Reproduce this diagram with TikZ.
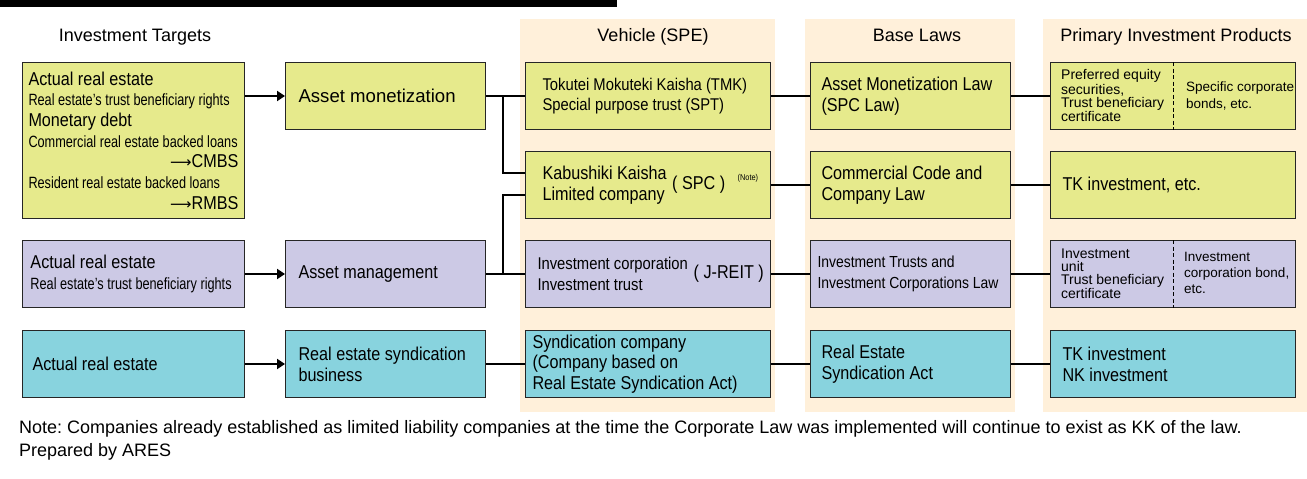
\documentclass[tikz,border=0pt]{standalone}
\usepackage{fontspec}
\setmainfont{Liberation Sans}
\newfontfamily\condfont[FakeStretch=0.87]{Liberation Sans}
\newfontfamily\narrowfont[FakeStretch=0.78]{Liberation Sans}
\newfontfamily\symfont{DejaVu Sans}
\usepackage{xcolor}
\usetikzlibrary{arrows.meta,positioning}
\definecolor{yelfill}{HTML}{E6EA8C}
\definecolor{purfill}{HTML}{CCC9E5}
\definecolor{cyanfill}{HTML}{88D3DE}
\definecolor{beige}{HTML}{FFF0DA}
\newcommand{\bigtx}{\fontsize{18.6}{20.7}\selectfont}
\newcommand{\midtx}{\fontsize{17}{20.3}\selectfont}
\newcommand{\smtx}{\narrowfont\fontsize{16.3}{20.7}\selectfont}
\newcommand{\prodtx}{\fontsize{14}{13}\selectfont}
\newcommand{\toarrow}{{\symfont\fontsize{15}{20}\selectfont ⟶}}
\frenchspacing

\begin{document}
\begin{tikzpicture}[x=1pt, y=-1pt,
    box/.style={draw=black!85, line width=1pt, anchor=north west, minimum height=67pt,
                inner ysep=0pt, align=flush left, font=\condfont\bigtx},
    tgtbox/.style={box, text width=210pt, inner xsep=6pt},
    actbox/.style={box, text width=174pt, inner xsep=13pt},
    spebox/.style={box, text width=221pt, inner xsep=12pt},
    lawbox/.style={box, text width=178pt, inner xsep=11pt},
    prodbox/.style={box, text width=221pt, inner xsep=12pt},
    prodtext/.style={anchor=west, inner sep=0pt, align=flush left, font=\prodtx},
    header/.style={anchor=base, font=\fontsize{18}{20}\selectfont},
    link/.style={line width=2.4pt, black},
    feed/.style={link, -{Triangle[length=8pt, width=10pt]}},
    divider/.style={line width=0.9pt, dash pattern=on 4pt off 2.5pt},
  ]

\useasboundingbox (0,0) rectangle (1307,479);

% top rule and column panels
\fill[black] (0,0) rectangle (617,7);
\fill[beige] (520,19) rectangle (775,412);
\fill[beige] (805,19) rectangle (1015,412);
\fill[beige] (1043,19) rectangle (1307,412);

\node[header] (htgt) at (135,41) {Investment Targets};
\node[header] (hspe) at (653,41) {Vehicle (SPE)};
\node[header] (hlaw) at (917,41) {Base Laws};
\node[header] (hprod) at (1176,41) {Primary Investment Products};

% investment targets
\node[tgtbox, fill=yelfill, minimum height=156pt] (t1) at (22,62)
  {Actual real estate\\
   {\smtx\mbox{Real estate’s trust beneficiary rights}}\\
   Monetary debt\\
   {\smtx\mbox{Commercial real estate backed loans}}\\
   \hspace*{\fill}\toarrow CMBS\\
   {\smtx\mbox{Resident real estate backed loans}}\\
   \hspace*{\fill}\toarrow RMBS};
\node[tgtbox, fill=purfill, inner xsep=8pt, text width=206pt] (t3) at (22,240)
  {Actual real estate\\ {\smtx\mbox{Real estate’s trust beneficiary rights}}};
\node[tgtbox, fill=cyanfill, inner xsep=10pt, text width=202pt] (t4) at (22,330) {Actual real estate};

% schemes
\node[actbox, fill=yelfill, font=\bigtx] (m1) at (285,62) {Asset monetization};
\node[actbox, fill=purfill] (m3) at (285,240) {Asset management};
\node[actbox, fill=cyanfill] (m4) at (285,330) {Real estate syndication\\business};

% vehicles
\node[spebox, fill=yelfill, inner xsep=17pt, text width=211pt, font=\condfont\midtx] (v1) at (525,62)
  {Tokutei Mokuteki Kaisha (TMK)\\Special purpose trust (SPT)};
\node[spebox, fill=yelfill, inner xsep=17pt, text width=211pt] (v2) at (525,151)
  {Kabushiki Kaisha\\Limited company};
\node[font=\condfont\bigtx, anchor=west, inner sep=0pt] (spc) at (672,185) {( SPC )};
\node[font=\condfont\fontsize{8.5}{10}\selectfont, right=12pt of spc, yshift=7pt, inner sep=0pt] (vnote) {(Note)};
\node[spebox, fill=purfill, font=\condfont\midtx] (v3) at (525,240)
  {Investment corporation\\Investment trust};
\node[font=\condfont\bigtx, anchor=east, inner xsep=7pt] (jreit) at (v3.east) {( J-REIT )};
\node[spebox, fill=cyanfill, inner xsep=7pt, text width=231pt] (v4) at (525,330)
  {Syndication company\\(Company based on\\Real Estate Syndication Act)};

% base laws
\node[lawbox, fill=yelfill] (l1) at (810,62) {Asset Monetization Law\\(SPC Law)};
\node[lawbox, fill=yelfill] (l2) at (810,151) {Commercial Code and\\Company Law};
\node[lawbox, fill=purfill, inner xsep=7pt, text width=186pt, font=\condfont\fontsize{16}{20.5}\selectfont] (l3) at (810,240)
  {Investment Trusts and\\Investment Corporations Law};
\node[lawbox, fill=cyanfill] (l4) at (810,330) {Real Estate\\Syndication Act};

% products
\node[prodbox, fill=yelfill] (p1) at (1050,62) {};
\node[prodtext] (p1a) at (1061,95.5) {Preferred equity\\securities,\\Trust beneficiary\\certificate};
\node[prodtext, font=\fontsize{13.5}{17}\selectfont] (p1b) at (1186,95.5) {Specific corporate\\bonds, etc.};
\draw[divider] ([xshift=123pt]p1.north west) -- ([xshift=123pt]p1.south west);
\node[prodbox, fill=yelfill] (p2) at (1050,151) {TK investment, etc.};
\node[prodbox, fill=purfill] (p3) at (1050,240) {};
\node[prodtext] (p3a) at (1061,274) {Investment\\unit\\Trust beneficiary\\certificate};
\node[prodtext, font=\fontsize{13.5}{16}\selectfont] (p3b) at (1184,273) {Investment\\corporation bond,\\etc.};
\draw[divider] ([xshift=123pt]p3.north west) -- ([xshift=123pt]p3.south west);
\node[prodbox, fill=cyanfill] (p4) at (1050,330) {TK investment\\NK investment};

% connectors
\draw[feed] (t1.east |- m1.west) -- (m1.west);
\draw[feed] (t3.east) -- (m3.west);
\draw[feed] (t4.east) -- (m4.west);

\coordinate (fork) at (503,0);
\draw[link] (m1.east) -- (v1.west);
\draw[link] (m1.east -| fork) |- ([yshift=12pt]v2.west);
\draw[link] (m3.east -| fork) |- ([yshift=-10pt]v2.west);
\draw[link] (m3.east) -- (v3.west);
\draw[link] (m4.east) -- (v4.west);

\draw[link] (v1.east) -- (l1.west);
\draw[link] (v2.east) -- (l2.west);
\draw[link] (v3.east) -- (l3.west);
\draw[link] (v4.east) -- (l4.west);

\draw[link] (l1.east) -- (p1.west);
\draw[link] (l2.east) -- (p2.west);
\draw[link] (l3.east) -- (p3.west);
\draw[link] (l4.east) -- (p4.west);

% footnote
\node[anchor=west, inner sep=0pt, font=\fontsize{18}{20}\selectfont] (fnote) at (19,429)
  {Note: Companies already established as limited liability companies at the time the Corporate Law was implemented will continue to exist as KK of the law.};
\node[anchor=west, inner sep=0pt, font=\fontsize{18}{20}\selectfont] (prep) at (19,452) {Prepared by ARES};

\end{tikzpicture}
\end{document}
